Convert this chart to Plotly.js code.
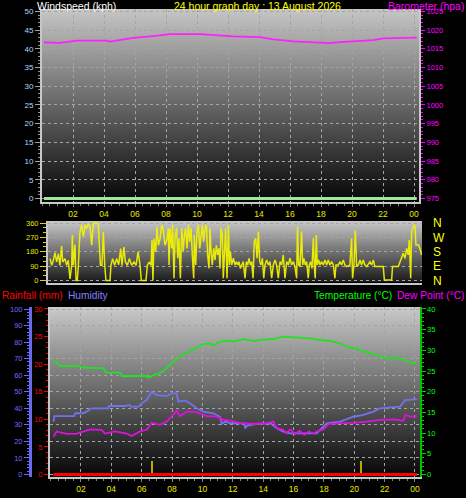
<!DOCTYPE html>
<html><head><meta charset="utf-8">
<script src="https://cdn.plot.ly/plotly-3.0.1.min.js"></script>
<style>html,body{margin:0;padding:0;background:#000;overflow:hidden}#chart{width:466px;height:498px}</style>
</head><body><div id="chart"></div>
<script>
// ---------- data ----------
const hourTickVals = [2,4,6,8,10,12,14,16,18,20,22,24];
const hourTickText = ['02','04','06','08','10','12','14','16','18','20','22','00'];

const baroHours  = [0.13,1.16,2.24,4.17,4.39,5.89,7.18,8.26,10.19,11.05,12.34,14.06,14.92,16.22,17.51,18.58,19.01,20.09,21.38,22.02,23.74,24.17];
const baroValues = [1016.7,1016.6,1017.2,1017.2,1016.95,1017.9,1018.4,1018.9,1018.9,1018.6,1018.3,1018.1,1017.5,1017.0,1016.7,1016.5,1016.7,1016.9,1017.3,1017.8,1018.1,1018.0];

const windSpeedHours  = [0.13, 24.17];
const windSpeedValues = [0, 0];

const windDirHours = [0.13,0.24,0.34,0.45,0.56,0.67,0.77,0.88,0.95,1.10,1.20,1.31,1.42,1.53,1.57,1.63,1.74,1.81,1.89,1.96,2.06,2.17,2.28,2.39,2.49,2.60,2.71,2.82,2.92,3.14,3.25,3.31,3.38,3.48,3.57,3.66,3.74,4.00,4.06,4.17,4.30,4.43,4.56,4.69,4.77,4.90,4.99,5.12,5.25,5.40,5.55,5.68,5.81,5.94,6.02,6.32,6.41,6.54,6.65,6.71,6.77,6.84,6.95,7.03,7.12,7.23,7.33,7.44,7.55,7.66,7.76,
7.81,7.87,7.98,8.04,8.13,8.20,8.30,8.37,8.45,8.54,8.63,8.73,8.80,8.88,8.97,9.06,9.14,9.23,9.31,9.40,9.44,9.53,9.61,9.70,9.79,9.87,9.96,10.04,10.13,10.22,10.30,10.39,10.45,10.52,10.60,10.69,10.78,10.86,10.95,11.03,11.10,11.16,11.25,11.31,11.38,11.46,11.55,11.64,11.70,11.77,11.85,11.96,12.07,12.15,12.24,12.32,12.41,12.50,12.60,12.71,12.80,12.88,12.97,13.06,13.14,13.23,13.31,13.40,13.49,13.57,13.66,13.74,13.83,13.92,14.00,14.11,14.22,14.32,14.43,14.54,14.65,14.75,14.86,14.97,15.08,15.18,15.29,15.40,15.51,15.61,15.72,15.83,
15.93,16.04,16.10,16.17,16.26,16.36,16.43,16.51,16.60,16.69,16.79,16.86,16.94,17.03,17.12,17.18,17.24,17.31,17.37,17.46,17.55,17.65,17.76,17.87,17.98,18.08,18.19,18.30,18.41,18.51,18.58,18.73,18.84,18.94,19.05,19.16,19.27,19.48,19.59,19.65,19.74,19.83,19.91,20.02,20.13,20.23,20.34,20.45,20.56,20.77,20.88,20.99,21.09,21.63,21.70,22.17,22.23,22.60,22.71,22.81,22.92,23.03,23.14,23.24,23.31,23.40,23.46,23.57,23.67,23.74,23.82,23.91,23.99,24.10];
const windDirValues = [137,95,126,175,116,168,95,217,116,137,95,126,10,95,284,95,225,0,0,95,305,347,274,347,326,352,337,221,358,358,352,221,95,95,305,95,0,0,95,137,95,137,99,200,95,210,116,95,137,95,116,95,179,95,0,0,95,116,95,253,0,263,179,337,221,263,347,316,221,253,326,
97,327,201,348,14,285,327,139,264,14,327,181,285,327,201,348,243,327,160,14,285,97,306,348,201,285,348,243,327,348,160,76,327,181,97,201,128,222,160,201,76,327,285,14,201,327,14,348,97,181,97,139,97,118,97,118,76,97,118,14,118,97,139,97,118,14,243,264,139,306,118,97,139,14,97,128,97,118,14,97,128,97,14,118,97,160,14,118,97,139,97,118,
87,14,337,97,87,306,97,139,97,118,14,97,118,76,264,97,14,285,97,128,97,118,97,128,97,128,97,118,97,14,97,97,118,97,128,97,87,97,264,14,97,316,87,97,128,97,128,97,87,118,97,128,87,87,3,3,87,87,118,139,170,139,201,160,254,14,306,337,348,222,222,222,201,160];

const compassVals = [0,90,180,270,360];
const compassText = ['N','E','S','W','N'];

const tempHours  = [0.18,0.62,1.06,1.83,2.2,3.25,3.47,3.69,3.91,4.57,4.7,6.33,6.44,6.77,7.21,7.65,8.09,8.52,8.96,9.40,9.84,10.06,10.50,10.72,11.16,11.60,12.04,12.70,13.36,14.01,14.67,15.33,15.99,16.43,17.09,17.75,18.41,19.06,19.72,20.38,21.04,21.70,22.36,23.02,23.35,23.79,24.12];
const tempValues = [27.7,26.2,26.2,26.2,25.8,25.8,25.7,24.5,24.6,24.6,23.8,23.8,23.4,24.0,24.5,25.7,27.3,28.5,29.3,30.1,30.9,31.5,31.7,31.1,32.1,32.3,32.1,32.7,32.3,32.5,32.8,33.3,33.2,33.1,32.9,32.5,32.3,31.7,30.7,30.1,29.3,28.5,28.1,28.1,27.5,26.9,26.9];

const humHours  = [0.18,0.25,1.55,1.61,2.15,2.38,2.71,3.80,3.85,4.90,5.20,5.25,5.80,6.00,6.33,6.66,7.00,7.65,7.95,8.30,8.41,8.85,9.18,9.62,10.06,10.72,11.16,11.27,11.50,11.80,12.00,12.78,12.81,12.95,13.50,14.50,14.89,15.33,15.77,17.53,17.75,18.19,19.06,19.94,20.60,21.26,21.70,23.02,23.35,24.12];
const humValues = [31.9,35.3,35.3,37.0,37.0,38.0,40.0,40.0,41.4,41.4,42.0,41.0,41.0,43.0,45.0,50.0,48.0,47.4,49.0,49.0,44.0,44.8,43.0,40.0,38.0,37.0,34.9,30.5,32.0,31.0,30.9,30.9,27.9,29.5,30.5,30.9,27.9,25.9,24.9,24.9,26.9,30.9,31.9,34.9,36.0,38.0,40.0,41.0,45.0,45.6];

const dewHours  = [0.18,0.40,1.06,1.72,2.60,3.36,3.58,4.24,5.01,5.34,5.89,6.33,6.66,7.21,7.65,8.09,8.31,8.52,8.96,9.40,9.84,10.28,10.94,11.38,11.82,12.48,13.36,14.23,14.67,14.89,15.33,15.50,15.80,16.10,16.40,16.70,17.00,17.30,17.53,17.97,18.30,19.06,19.94,20.82,21.70,22.58,23.24,23.35,23.68,24.12];
const dewValues = [9.1,10.4,9.8,9.9,10.9,10.8,9.9,10.4,9.9,9.3,10.4,10.8,12.5,12.0,12.8,14.4,15.4,14.1,15.2,15.2,14.8,14.1,14.0,13.2,13.0,12.4,12.2,12.4,12.8,11.2,10.8,10.0,10.9,9.8,10.6,9.6,10.4,9.9,10.4,10.9,12.2,12.4,12.5,12.8,13.2,13.3,13.0,14.4,14.0,14.1];

const rainHours  = [0.18, 24.12];
const rainValues = [0, 0];
const rainRateHours  = [6.66, 20.45];
const rainRateValues = [2.5, 2.5];

// ---------- layout helpers ----------
const W = 466, H = 498;
const px = v => v / W;
const py = v => 1 - v / H;
function grad(top, bottom) {
  const svg = "<svg xmlns='http://www.w3.org/2000/svg' width='10' height='100' viewBox='0 0 10 100' preserveAspectRatio='none'>" +
    "<defs><linearGradient id='g' x1='0' y1='0' x2='0' y2='1'><stop offset='0' stop-color='" + top + "'/><stop offset='1' stop-color='" + bottom + "'/></linearGradient></defs>" +
    "<rect width='10' height='100' fill='url(#g)'/></svg>";
  return 'data:image/svg+xml;charset=utf-8,' + encodeURIComponent(svg);
}
function bgImage(x0, y0, x1, y1, top, bottom) {
  return {source: grad(top, bottom), xref: 'paper', yref: 'paper', x: px(x0), y: py(y0),
    sizex: px(x1) - px(x0), sizey: (y1 - y0) / H, sizing: 'stretch', xanchor: 'left', yanchor: 'top', layer: 'below'};
}
const FONT = 'Liberation Sans, Arial, sans-serif';
const GRID = '#a4a4a4';
const FRAME = '#c8c8c8';

const traces = [
  {x: windSpeedHours, y: windSpeedValues, xaxis: 'x', yaxis: 'y', mode: 'lines', line: {color: '#98e898', width: 3}},
  {x: baroHours, y: baroValues, xaxis: 'x', yaxis: 'y2', mode: 'lines', line: {color: '#ff20ff', width: 1.8}},
  {x: windDirHours, y: windDirValues, xaxis: 'x2', yaxis: 'y3', mode: 'lines', line: {color: '#f4f400', width: 1.5}, opacity: 0.92},
  {x: [], y: [], xaxis: 'x2', yaxis: 'y4', mode: 'lines'},
  {x: rainHours, y: rainValues, xaxis: 'x3', yaxis: 'y5', mode: 'lines', line: {color: '#ff0000', width: 3}},
  {x: rainRateHours, y: rainRateValues, xaxis: 'x3', yaxis: 'y5', type: 'bar', width: 0.13, marker: {color: '#b8a800', line: {width: 0}}},
  {x: humHours, y: humValues, xaxis: 'x3', yaxis: 'y6', mode: 'lines', line: {color: '#7272f0', width: 1.8}},
  {x: tempHours, y: tempValues, xaxis: 'x3', yaxis: 'y7', mode: 'lines', line: {color: '#22e022', width: 1.8}},
  {x: dewHours, y: dewValues, xaxis: 'x3', yaxis: 'y7', mode: 'lines', line: {color: '#e010e0', width: 1.8}}
];

const tickF = (c, s) => ({family: FONT, size: s || 7.5, color: c});

const layout = {
  width: W, height: H, margin: {l: 0, r: 0, t: 0, b: 0, pad: 0},
  paper_bgcolor: '#000', plot_bgcolor: 'rgba(0,0,0,0)',
  showlegend: false, hovermode: false, bargap: 0,
  font: {family: FONT, color: '#fff'},
  images: [
    bgImage(42, 9, 419, 202, '#c6c6c6', '#050505'),
    bgImage(48, 221, 422, 282, '#c8c8c8', '#1a1a1a'),
    bgImage(50, 307, 420, 477, '#cacaca', '#050505')
  ],
  // top panel
  xaxis: {domain: [px(42), px(419)], range: [0, 24.32], anchor: 'y', tickmode: 'array', tickvals: hourTickVals, ticktext: hourTickText,
    tickfont: tickF('#e8e800', 8.5), ticks: 'outside', ticklen: 3, tickcolor: '#808080',
    minor: {tickmode: 'linear', tick0: 0, dtick: 0.5, ticks: 'outside', ticklen: 2, tickcolor: '#808080'},
    showgrid: true, gridcolor: GRID, griddash: 'dot', gridwidth: 1, showline: true, linecolor: FRAME, linewidth: 2, zeroline: false, fixedrange: true},
  yaxis: {domain: [py(202), py(9)], range: [-0.935, 50.64], anchor: 'x', side: 'left', tick0: 0, dtick: 5,
    tickfont: tickF('#b0d8ff', 8), ticks: 'outside', ticklen: 5, tickcolor: '#a0a0a0',
    minor: {dtick: 1, ticks: 'outside', ticklen: 2, tickcolor: '#909090'},
    showgrid: true, gridcolor: GRID, griddash: 'dot', showline: true, linecolor: FRAME, linewidth: 2, zeroline: false},
  yaxis2: {overlaying: 'y', side: 'right', anchor: 'x', range: [974.065, 1025.64], tick0: 975, dtick: 5,
    tickfont: tickF('#ff00ff'), ticks: 'outside', ticklen: 4, tickcolor: '#ff00ff',
    minor: {dtick: 1, ticks: 'outside', ticklen: 2, tickcolor: '#ff00ff'},
    showgrid: false, showline: true, linecolor: FRAME, linewidth: 2, zeroline: false},
  // wind direction panel
  xaxis2: {domain: [px(48), px(422)], range: [0, 24.13], anchor: 'y3', showticklabels: false, ticks: '', showgrid: false,
    showline: true, linecolor: FRAME, linewidth: 2, zeroline: false},
  yaxis3: {domain: [py(283), py(221)], range: [-15.7, 372.5], anchor: 'x2', side: 'left', tickmode: 'array', tickvals: compassVals,
    tickfont: tickF('#e8e800'), ticks: 'outside', ticklen: 6, tickcolor: '#d8d800',
    minor: {tickmode: 'linear', tick0: 0, dtick: 30, ticks: 'outside', ticklen: 3, tickcolor: '#d8d800'},
    showgrid: true, gridcolor: GRID, griddash: 'dot', showline: true, linecolor: FRAME, linewidth: 2, zeroline: false},
  yaxis4: {overlaying: 'y3', side: 'right', anchor: 'x2', range: [-15.7, 372.5], tickmode: 'array', tickvals: compassVals, ticktext: compassText,
    tickfont: tickF('#ffff00', 12), ticks: '', ticklabelstandoff: 10, showgrid: false, showline: false, zeroline: false},
  // lower panel
  xaxis3: {domain: [px(50), px(420)], range: [-0.04, 24.33], anchor: 'y5', tickmode: 'array', tickvals: hourTickVals, ticktext: hourTickText,
    tickfont: tickF('#e8e800', 8.5), ticks: 'outside', ticklen: 3, tickcolor: '#808080',
    minor: {tickmode: 'linear', tick0: 0, dtick: 0.5, ticks: 'outside', ticklen: 2, tickcolor: '#808080'},
    showgrid: true, gridcolor: GRID, griddash: 'dot', showline: true, linecolor: FRAME, linewidth: 2, zeroline: false},
  yaxis5: {domain: [py(477), py(307)], range: [-0.453, 30.36], anchor: 'x3', side: 'left', tick0: 0, dtick: 5,
    tickfont: tickF('#ff0000'), ticks: 'outside', ticklen: 4, tickcolor: '#ff0000',
    minor: {dtick: 1, ticks: 'outside', ticklen: 2, tickcolor: '#ff0000'},
    showgrid: false, showline: true, linecolor: FRAME, linewidth: 2, zeroline: false},
  yaxis6: {overlaying: 'y5', anchor: 'free', position: px(30), side: 'left', range: [-1.51, 101.21], tick0: 0, dtick: 10,
    tickfont: tickF('#6a6aff'), ticks: 'outside', ticklen: 5, tickcolor: '#6a6aff',
    minor: {dtick: 2, ticks: 'outside', ticklen: 2, tickcolor: '#6a6aff'},
    showgrid: true, gridcolor: GRID, griddash: 'dot', showline: true, linecolor: '#6a6aee', linewidth: 2.5, zeroline: false},
  yaxis7: {overlaying: 'y5', anchor: 'x3', side: 'right', range: [-0.604, 40.48], tick0: 0, dtick: 5,
    tickfont: tickF('#00ff00'), ticks: 'outside', ticklen: 4, tickcolor: '#00d000',
    minor: {dtick: 1, ticks: 'outside', ticklen: 2, tickcolor: '#00d000'},
    showgrid: false, showline: true, linecolor: '#00c000', linewidth: 1.5, zeroline: false},
  annotations: [
    {text: 'Windspeed (kph)', x: px(35), y: py(5.5), xref: 'paper', yref: 'paper', xanchor: 'left', yanchor: 'middle', showarrow: false, font: {family: FONT, size: 10.5, color: '#ffffff'}},
    {text: '24 hour graph day : 13 August 2026', x: px(257), y: py(5.5), xref: 'paper', yref: 'paper', xanchor: 'center', yanchor: 'middle', showarrow: false, font: {family: FONT, size: 10.5, color: '#ffff00'}},
    {text: 'Barometer (hpa)', x: px(466), y: py(5.5), xref: 'paper', yref: 'paper', xanchor: 'right', yanchor: 'middle', showarrow: false, font: {family: FONT, size: 10.5, color: '#ff00ff'}},
    {text: 'Rainfall (mm)', x: px(0), y: py(295.5), xref: 'paper', yref: 'paper', xanchor: 'left', yanchor: 'middle', showarrow: false, font: {family: FONT, size: 10.2, color: '#ff0000'}},
    {text: 'Humidity', x: px(66), y: py(295.5), xref: 'paper', yref: 'paper', xanchor: 'left', yanchor: 'middle', showarrow: false, font: {family: FONT, size: 10.2, color: '#8080ff'}},
    {text: 'Temperature (°C)', x: px(312), y: py(295.5), xref: 'paper', yref: 'paper', xanchor: 'left', yanchor: 'middle', showarrow: false, font: {family: FONT, size: 10.2, color: '#00ff00'}},
    {text: 'Dew Point (°C)', x: px(466), y: py(295.5), xref: 'paper', yref: 'paper', xanchor: 'right', yanchor: 'middle', showarrow: false, font: {family: FONT, size: 10.2, color: '#ff00ff'}}
  ]
};

Plotly.newPlot('chart', traces, layout, {staticPlot: true, displayModeBar: false});
</script>
</body></html>
